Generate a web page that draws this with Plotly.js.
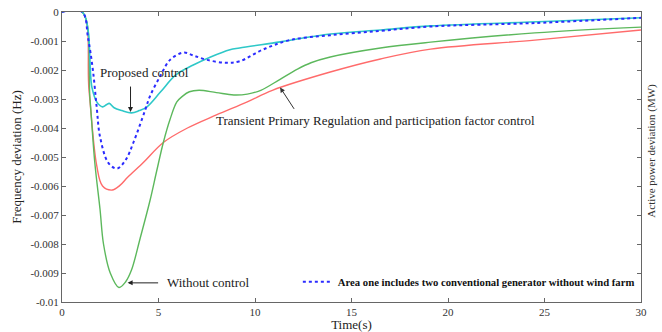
<!DOCTYPE html>
<html>
<head>
<meta charset="utf-8">
<script src="https://cdn.plot.ly/plotly-3.0.1.min.js"></script>
<style>html,body{margin:0;padding:0;background:#fff;}#chart{width:662px;height:332px;}</style>
</head>
<body>
<div id="chart"></div>
<script>
// Without control (green)
const tGreen = [0, 1.05, 1.45, 1.7, 1.97, 2.15, 2.5, 2.95, 3.3, 3.6, 4.05, 4.56, 4.9, 5.25, 5.6, 5.95, 6.25, 6.6, 7.1, 8.0, 8.9, 9.6, 10.3, 11.3, 12.2, 12.9, 13.9, 16.5, 19.1, 24.5, 30];
const yGreen = [0, 0, -0.003, -0.0052, -0.0068, -0.008, -0.009, -0.0095, -0.0093, -0.0089, -0.0078, -0.0065, -0.0055, -0.0045, -0.0037, -0.0031, -0.0029, -0.00275, -0.0027, -0.00278, -0.00286, -0.00283, -0.0027, -0.00232, -0.00197, -0.00175, -0.00155, -0.00124, -0.00104, -0.00072, -0.00052];
// Transient Primary Regulation and participation factor control (red)
const tRed = [0, 1.05, 1.4, 1.8, 2.1, 2.6, 3.0, 3.4, 4.2, 5.25, 6.5, 8.0, 9.6, 10.9, 13.9, 16.5, 19.1, 24.5, 30];
const yRed = [0, 0, -0.0027, -0.0053, -0.006, -0.00614, -0.00598, -0.0057, -0.0052, -0.0045, -0.004, -0.00355, -0.0031, -0.0027, -0.00207, -0.00162, -0.00128, -0.00097, -0.00062];
// Area one includes two conventional generator without wind farm (blue dotted)
const tBlue = [0, 1.05, 1.35, 1.6, 1.8, 1.97, 2.4, 2.85, 3.3, 3.7, 4.3, 4.56, 5.1, 5.6, 6.3, 6.8, 7.5, 8.5, 9.2, 10.4, 11.8, 13.9, 16.5, 19.1, 24.5, 30];
const yBlue = [0, 0, -0.0009, -0.002, -0.0033, -0.0043, -0.0052, -0.0054, -0.0051, -0.0045, -0.0034, -0.0029, -0.0022, -0.00165, -0.0014, -0.0015, -0.00165, -0.00175, -0.0017, -0.0013, -0.00097, -0.0008, -0.00065, -0.0005, -0.00038, -0.0002];
// Proposed control (cyan)
const tCyan = [0, 1.05, 1.55, 1.8, 2.1, 2.3, 2.45, 2.7, 3.1, 3.6, 4.0, 4.4, 5.1, 5.9, 6.8, 7.7, 8.7, 9.2, 11.3, 13.9, 16.5, 19.1, 25, 30];
const yCyan = [0, 0, -0.0026, -0.0031, -0.00327, -0.0032, -0.00315, -0.0033, -0.0034, -0.00348, -0.0034, -0.00327, -0.00276, -0.00217, -0.00183, -0.00155, -0.0013, -0.00124, -0.00103, -0.00076, -0.00062, -0.00048, -0.00033, -0.0002];

const xTickVals = [0, 5, 10, 15, 20, 25, 30];
const yTickVals = [0, -0.001, -0.002, -0.003, -0.004, -0.005, -0.006, -0.007, -0.008, -0.009, -0.01];
const yTickText = ['0', '-0.001', '-0.002', '-0.003', '-0.004', '-0.005', '-0.006', '-0.007', '-0.008', '-0.009', '-0.01'];

const legendName = 'Area one includes two conventional generator without wind farm';
const serif = '"Liberation Serif", "Times New Roman", Times, serif';

const traces = [
  {x: tRed, y: yRed, mode: 'lines', line: {color: '#ff6b6b', width: 1.4, shape: 'spline', smoothing: 1}, showlegend: false, hoverinfo: 'skip'},
  {x: tGreen, y: yGreen, mode: 'lines', line: {color: '#5cb85c', width: 1.4, shape: 'spline', smoothing: 1}, showlegend: false, hoverinfo: 'skip'},
  {x: tCyan, y: yCyan, mode: 'lines', line: {color: '#2ec8c8', width: 1.6, shape: 'spline', smoothing: 1}, showlegend: false, hoverinfo: 'skip'},
  {x: tBlue, y: yBlue, mode: 'lines', name: legendName, line: {color: '#2b2bff', width: 2, dash: 'dot', shape: 'spline', smoothing: 1}, showlegend: true}
];

const axisCommon = {
  showline: true, linecolor: '#666', linewidth: 1, mirror: 'ticks',
  ticks: 'inside', ticklen: 4, tickcolor: '#666',
  showgrid: false, zeroline: false,
  tickfont: {family: serif, size: 11, color: '#333'}
};

const layout = {
  width: 662, height: 332,
  margin: {l: 62, r: 21, t: 12, b: 30},
  paper_bgcolor: '#fff', plot_bgcolor: '#fff',
  font: {family: serif},
  xaxis: Object.assign({}, axisCommon, {
    range: [0, 30], tickvals: xTickVals,
    title: {text: 'Time(s)', font: {family: serif, size: 13, color: '#222'}, standoff: 1}
  }),
  yaxis: Object.assign({}, axisCommon, {
    range: [-0.01, 0], tickvals: yTickVals, ticktext: yTickText,
    title: {text: 'Frequency deviation (Hz)', font: {family: serif, size: 13, color: '#222'}, standoff: 5}
  }),
  showlegend: true,
  legend: {
    x: 0.998, y: 0.02, xanchor: 'right', yanchor: 'bottom',
    bgcolor: 'rgba(0,0,0,0)', borderwidth: 0,
    font: {family: serif, size: 10.7, color: '#111', weight: 'bold'},
    itemwidth: 30
  },
  annotations: [
    {xref: 'paper', yref: 'paper', x: 1, y: 0.52, xanchor: 'left', xshift: 2,
     text: 'Active power deviation (MW)', textangle: -90, showarrow: false,
     font: {family: serif, size: 11, color: '#333'}},
    {x: 3.55, y: -0.00345, ax: 0, ay: -27, text: '', showarrow: true, arrowhead: 2, arrowsize: 1, arrowwidth: 1, arrowcolor: '#222'},
    {x: 4.3, y: -0.0021, text: 'Proposed control', showarrow: false,
     font: {family: serif, size: 13, color: '#222'}},
    {x: 11.3, y: -0.0026, ax: 15, ay: 23, text: '', showarrow: true, arrowhead: 2, arrowsize: 1, arrowwidth: 1, arrowcolor: '#333'},
    {x: 7.9, y: -0.00375, xanchor: 'left', text: 'Transient Primary Regulation and participation factor control', showarrow: false,
     font: {family: serif, size: 13, color: '#222'}},
    {x: 3.4, y: -0.00934, ax: 32, ay: 0, text: '', showarrow: true, arrowhead: 2, arrowsize: 1, arrowwidth: 1, arrowcolor: '#222'},
    {x: 5.35, y: -0.00934, xanchor: 'left', text: 'Without control', showarrow: false,
     font: {family: serif, size: 13, color: '#222'}}
  ]
};

Plotly.newPlot('chart', traces, layout, {displayModeBar: false, staticPlot: true});
</script>
</body>
</html>
